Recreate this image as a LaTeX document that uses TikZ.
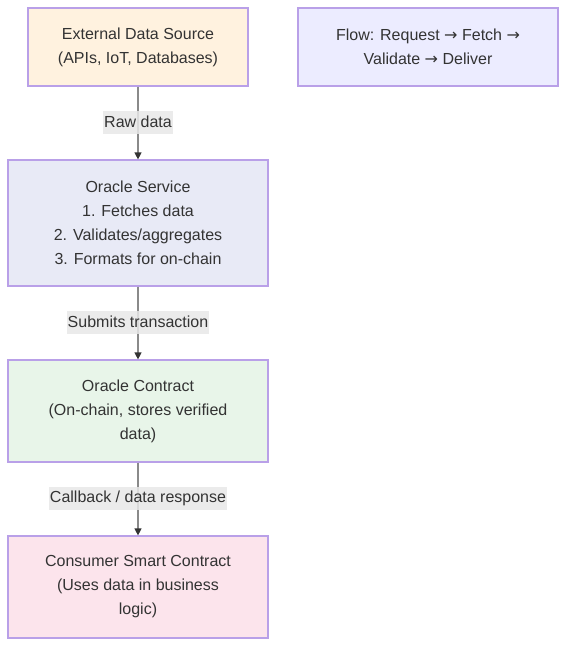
\documentclass[tikz,border=0pt]{standalone}
\usepackage{fontspec}
\setmainfont{Liberation Sans}
\newfontfamily\arrowfont{DejaVu Sans}
\usetikzlibrary{arrows.meta}
\definecolor{bordc}{HTML}{B9A0E8}
\definecolor{txtc}{HTML}{333333}
\definecolor{linec}{HTML}{8A8A8A}
\definecolor{lblbg}{HTML}{E8E8E8}
\definecolor{fext}{HTML}{FFF2DF}
\definecolor{fflow}{HTML}{ECECFF}
\definecolor{fsvc}{HTML}{E8EAF6}
\definecolor{fcon}{HTML}{E8F5E9}
\definecolor{fcons}{HTML}{FCE4EC}
\newcommand{\rarr}{{\arrowfont\fontsize{16}{24}\selectfont →}}
\begin{document}
\begin{tikzpicture}[x=1pt,y=-1pt,
  box/.style={draw=bordc,line width=1.2pt,align=center,text=txtc,
    font=\fontsize{16}{24}\selectfont,inner sep=0pt},
  lbl/.style={fill=lblbg,fill opacity=0.85,text opacity=1,text=txtc,
    font=\fontsize{16}{24}\selectfont,inner xsep=1pt,inner ysep=0pt,
    minimum height=23pt},
  conn/.style={draw=linec,line width=1.2pt,-{Triangle[length=7pt,width=7pt,color=txtc]}}]
\useasboundingbox (0,0) rectangle (566,646);
\node[box,fill=fext,minimum width=220pt,minimum height=78pt] (ext) at (138,47)
  {External Data Source\\(APIs, IoT, Databases)};
\node[box,fill=fflow,minimum width=260pt,minimum height=78pt] (flow) at (428,47)
  {Flow: Request \rarr{} Fetch \rarr\\Validate \rarr{} Deliver};
\node[box,fill=fsvc,minimum width=260pt,minimum height=126pt] (svc) at (138,223)
  {Oracle Service\\1. Fetches data\\2. Validates/aggregates\\3. Formats for on-chain};
\node[box,fill=fcon,minimum width=260pt,minimum height=102pt] (con) at (138,411)
  {Oracle Contract\\(On-chain, stores verified\\data)};
\node[box,fill=fcons,minimum width=260pt,minimum height=102pt] (cons) at (138,587)
  {Consumer Smart Contract\\(Uses data in business\\logic)};
\draw[conn] (ext.south) -- (svc.north);
\draw[conn] (svc.south) -- (con.north);
\draw[conn] (con.south) -- (cons.north);
\node[lbl] (l1) at (138,122) {Raw data};
\node[lbl] (l2) at (138,322) {Submits transaction};
\node[lbl] (l3) at (138,498) {Callback / data response};
\end{tikzpicture}
\end{document}
